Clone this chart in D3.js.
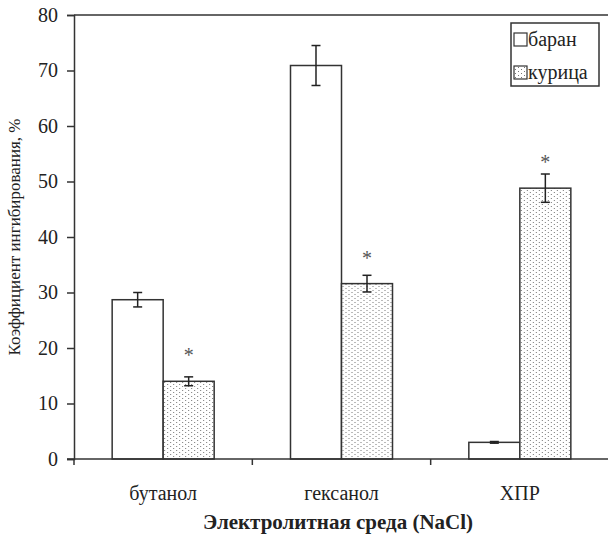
<!DOCTYPE html>
<html><head><meta charset="utf-8">
<script src="https://cdn.jsdelivr.net/npm/d3@7"></script>
<style>body{margin:0;background:#fff} svg text, svg .tick text{font-family:"Liberation Serif" !important;}</style>
</head><body><svg id="c" width="608" height="536"></svg>
<script>
const categories = ["бутанол", "гексанол", "ХПР"];
const seriesNames = ["баран", "курица"];
const baranValues = [28.7, 70.9, 3.0];
const baranErrors = [1.3, 3.6, 0.15];
const kuricaValues = [14.0, 31.6, 48.8];
const kuricaErrors = [0.8, 1.5, 2.55];
const significant = [true, true, true];
const yTicks = [0, 10, 20, 30, 40, 50, 60, 70, 80];

const svg = d3.select("#c");
const m = {l: 74, r: 609, t: 15, b: 459};
const y = d3.scaleLinear().domain([0, 80]).range([m.b, m.t]);
const x0 = d3.scaleBand().domain(categories).range([m.l, m.r]).paddingInner(0.428).paddingOuter(0.214);
const x1 = d3.scaleBand().domain(seriesNames).range([0, x0.bandwidth()]);

function txt(sel) { return sel.append("text").attr("fill", "#222"); }

const defs = svg.append("defs");
const pat = defs.append("pattern").attr("id", "dots").attr("patternUnits", "userSpaceOnUse")
  .attr("width", 6).attr("height", 4);
pat.append("rect").attr("width", 6).attr("height", 4).attr("fill", "#fff");
pat.append("rect").attr("x", 1).attr("y", 0).attr("width", 1).attr("height", 1).attr("fill", "#777");
pat.append("rect").attr("x", 4).attr("y", 2).attr("width", 1).attr("height", 1).attr("fill", "#777");

const data = categories.map((c, i) => ({
  cat: c,
  vals: [
    {s: "баран", v: baranValues[i], e: baranErrors[i]},
    {s: "курица", v: kuricaValues[i], e: kuricaErrors[i]}
  ],
  sig: significant[i]
}));

const grp = svg.append("g").selectAll("g").data(data).join("g")
  .attr("transform", d => `translate(${x0(d.cat)},0)`);
grp.selectAll("rect").data(d => d.vals).join("rect")
  .attr("x", d => x1(d.s)).attr("y", d => y(d.v))
  .attr("width", x1.bandwidth()).attr("height", d => y(0) - y(d.v))
  .attr("fill", d => d.s === "баран" ? "#fff" : "url(#dots)")
  .attr("stroke", "#333").attr("stroke-width", 1.5);

grp.each(function(gd) {
  const gs = d3.select(this);
  gd.vals.forEach(d => {
    const cx = x1(d.s) + x1.bandwidth() / 2;
    const s = gs.append("g").attr("stroke", "#222").attr("stroke-width", 1.5);
    s.append("line").attr("x1", cx).attr("x2", cx).attr("y1", y(d.v + d.e)).attr("y2", y(d.v - d.e));
    s.append("line").attr("x1", cx - 4.5).attr("x2", cx + 4.5).attr("y1", y(d.v + d.e)).attr("y2", y(d.v + d.e));
    s.append("line").attr("x1", cx - 4.5).attr("x2", cx + 4.5).attr("y1", y(d.v - d.e)).attr("y2", y(d.v - d.e));
  });
  if (gd.sig) {
    txt(gs).attr("x", x1("курица") + x1.bandwidth() / 2).attr("y", y(gd.vals[1].v) - 19)
      .attr("text-anchor", "middle").attr("font-size", 20).attr("fill", "#555").text("*");
  }
});

svg.append("line").attr("x1", m.l).attr("x2", 608).attr("y1", y(80)).attr("y2", y(80))
  .attr("stroke", "#333").attr("stroke-width", 1.5);

const ya = svg.append("g").attr("transform", `translate(${m.l},0)`)
  .call(d3.axisLeft(y).tickValues(yTicks).tickSize(7).tickPadding(9));
ya.attr("font-family", null);
ya.select(".domain").attr("stroke", "#333").attr("stroke-width", 1.5);
ya.selectAll(".tick line").attr("stroke", "#333").attr("stroke-width", 1.5);
ya.selectAll(".tick text").attr("font-size", 20).attr("fill", "#222");

svg.append("line").attr("x1", m.l - 7).attr("x2", 608).attr("y1", y(0)).attr("y2", y(0))
  .attr("stroke", "#333").attr("stroke-width", 1.5);
const bounds = categories.map(c => x0(c) - x0.step() * x0.paddingInner() / 2).concat([m.r]);
svg.selectAll("line.xt").data(bounds).join("line").attr("class", "xt")
  .attr("x1", d => d).attr("x2", d => d).attr("y1", y(0)).attr("y2", y(0) + 6)
  .attr("stroke", "#333").attr("stroke-width", 1.5);

categories.forEach(c => {
  txt(svg).attr("x", x0(c) + x0.bandwidth() / 2).attr("y", 500)
    .attr("text-anchor", "middle").attr("font-size", 20).text(c);
});

txt(svg).attr("x", (m.l + 608) / 2 - 3).attr("y", 529).attr("text-anchor", "middle")
  .attr("font-size", 21).attr("font-weight", "bold").text("Электролитная среда (NaCl)");

txt(svg).attr("transform", `translate(20,${(m.t + m.b) / 2}) rotate(-90)`)
  .attr("text-anchor", "middle").attr("font-size", 17).text("Коэффициент ингибирования, %");

const lg = svg.append("g").attr("transform", "translate(511,23)");
lg.append("rect").attr("width", 88).attr("height", 63).attr("fill", "#fff").attr("stroke", "#333").attr("stroke-width", 1.5);
seriesNames.forEach((s, i) => {
  lg.append("rect").attr("x", 3).attr("y", 10 + i * 33).attr("width", 13).attr("height", 13)
    .attr("fill", i === 0 ? "#fff" : "url(#dots)").attr("stroke", "#333").attr("stroke-width", 1.2);
  txt(lg).attr("x", 17).attr("y", 23 + i * 33).attr("font-size", 20).text(s);
});
</script></body></html>
